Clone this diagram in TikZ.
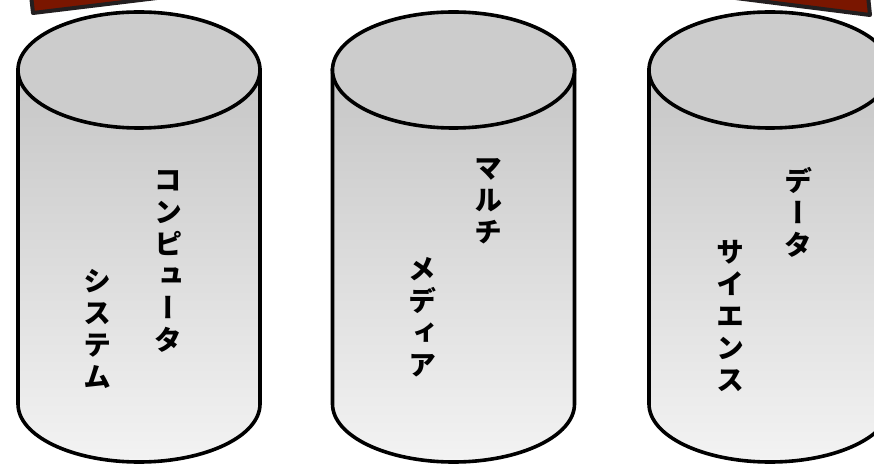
\documentclass[tikz,border=0pt]{standalone}
\usepackage{fontspec}
\newfontfamily\jpv[RawFeature=+vert]{Noto Sans CJK JP}
\definecolor{topgray}{RGB}{204,204,204}
\definecolor{bodytop}{RGB}{198,198,198}
\definecolor{bodybot}{RGB}{243,243,243}
\definecolor{banner}{RGB}{122,22,0}
\definecolor{bannerline}{RGB}{35,31,32}
\tikzset{
  cylline/.style={line width=3.6pt, draw=black},
  vtext/.style={align=center, inner sep=0pt, font=\jpv\bfseries\fontsize{28}{32}\selectfont},
  bannershape/.style={fill=banner, draw=bannerline, line width=4pt, line join=round}
}
\begin{document}
\begin{tikzpicture}[x=1pt,y=1pt]
\useasboundingbox (0,0) rectangle (874,466);
\clip (0,0) rectangle (874,466);
% partial dark red shapes at the top
\draw[bannershape] (30,480) -- (33,453) -- (190,472) -- (190,480) -- cycle;
\draw[bannershape] (700,472.5) -- (870,451) -- (867,480) -- (700,480) -- cycle;
% cylinders
\foreach \cx in {139,453.5,770}{
  \draw[cylline, top color=bodytop, bottom color=bodybot]
    (\cx-121,396) -- (\cx-121,62)
    arc[start angle=180, end angle=360, x radius=121, y radius=58]
    -- (\cx+121,396) -- cycle;
  \draw[cylline, fill=topgray] (\cx,396) ellipse[x radius=121, y radius=58];
}
% labels
\node[vtext] (t1a) at (168,205) {コ\\ン\\ピ\\ュ\\ー\\タ};
\node[vtext] (t1b) at (97,137) {シ\\ス\\テ\\ム};
\node[vtext] (t2a) at (488,264.5) {マ\\ル\\チ};
\node[vtext] (t2b) at (422,148.5) {メ\\デ\\ィ\\ア};
\node[vtext] (t3a) at (798,253.5) {デ\\ー\\タ};
\node[vtext] (t3b) at (730,150) {サ\\イ\\エ\\ン\\ス};
\end{tikzpicture}
\end{document}
